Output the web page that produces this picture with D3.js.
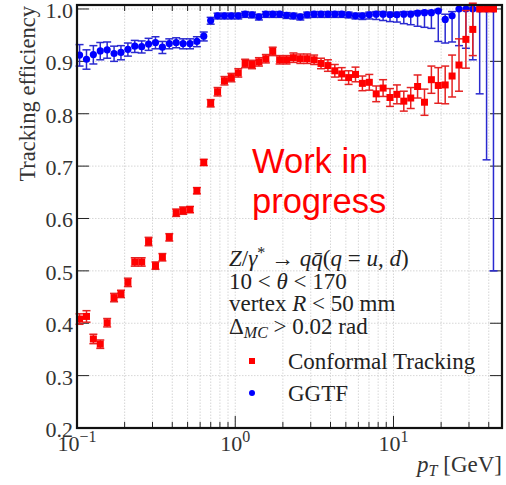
<!DOCTYPE html>
<html>
<head>
<meta charset="utf-8">
<script src="https://cdn.jsdelivr.net/npm/d3@7"></script>
<style>
  body { margin: 0; background: #fff; }
  svg { display: block; }
  .tick-label { font-family: "Liberation Serif", serif; font-size: 22px; fill: #333; }
</style>
</head>
<body>
<div id="chart"></div>
<script>
// bin centres in pT [GeV]
var pT = [0.1038, 0.1148, 0.1269, 0.1403, 0.1551, 0.1715, 0.1896, 0.2097, 0.2318, 0.2563,
  0.2834, 0.3133, 0.3464, 0.3830, 0.4234, 0.4682, 0.5176, 0.5723, 0.6324, 0.6994,
  0.7733, 0.8548, 0.9450, 1.045, 1.155, 1.277, 1.411, 1.561, 1.725, 1.908,
  2.109, 2.332, 2.578, 2.850, 3.151, 3.484, 3.852, 4.258, 4.708, 5.205,
  5.754, 6.362, 7.034, 7.777, 8.598, 9.506, 10.51, 11.62, 12.85, 14.20,
  15.70, 17.36, 19.19, 21.22, 23.46, 25.94, 28.68, 31.71, 35.05, 38.75, 42.84];

// Conformal Tracking
var ctEff = [0.408, 0.413, 0.370, 0.360, 0.401, 0.449, 0.456, 0.478, 0.517, 0.517,
  0.556, 0.510, 0.526, 0.564, 0.611, 0.615, 0.617, 0.653, 0.707, 0.820,
  0.842, 0.863, 0.869, 0.878, 0.896, 0.894, 0.899, 0.905, 0.919, 0.903,
  0.903, 0.907, 0.905, 0.905, 0.903, 0.896, 0.892, 0.882, 0.876, 0.869,
  0.875, 0.858, 0.860, 0.838, 0.849, 0.831, 0.837, 0.824, 0.830, 0.852,
  0.822, 0.865, 0.854, 0.855, 0.872, 0.893, 0.942, 0.961, 1.0, 1.0, 1.0];
var ctErr = [0.010, 0.011, 0.009, 0.008, 0.008, 0.008, 0.007, 0.008, 0.008, 0.008,
  0.008, 0.007, 0.007, 0.007, 0.007, 0.007, 0.006, 0.006, 0.006, 0.007,
  0.008, 0.008, 0.008, 0.008, 0.008, 0.008, 0.008, 0.008, 0.008, 0.008,
  0.008, 0.009, 0.009, 0.009, 0.009, 0.010, 0.011, 0.012, 0.012, 0.013,
  0.014, 0.014, 0.015, 0.015, 0.016, 0.017, 0.018, 0.019, 0.020, 0.022,
  0.025, 0.026, 0.034, 0.036, 0.040, 0.050, 0.055, 0.050, 0, 0, 0];

// GGTF
var ggEff = [0.912, 0.904, 0.913, 0.920, 0.922, 0.915, 0.917, 0.923, 0.929, 0.928,
  0.933, 0.936, 0.927, 0.934, 0.936, 0.934, 0.934, 0.938, 0.948, 0.978,
  0.987, 0.987, 0.987, 0.987, 0.990, 0.989, 0.985, 0.990, 0.990, 0.990,
  0.988, 0.987, 0.985, 0.989, 0.990, 0.990, 0.990, 0.990, 0.990, 0.989,
  0.987, 0.987, 0.989, 0.990, 0.990, 0.989, 0.989, 0.990, 0.990, 0.992,
  0.993, 0.993, 0.996, 0.980, 0.987, 1.0, 1.0, 1.0, 1.0, 1.0, 1.0];
var ggLo = [0.021, 0.019, 0.018, 0.017, 0.016, 0.015, 0.014, 0.013, 0.012, 0.012,
  0.012, 0.012, 0.012, 0.010, 0.010, 0.010, 0.010, 0.010, 0.009, 0.007,
  0.006, 0.006, 0.006, 0.006, 0.006, 0.006, 0.006, 0.006, 0.006, 0.006,
  0.006, 0.006, 0.006, 0.006, 0.006, 0.006, 0.006, 0.006, 0.006, 0.006,
  0.006, 0.007, 0.008, 0.010, 0.012, 0.013, 0.014, 0.018, 0.020, 0.025,
  0.028, 0.030, 0.058, 0.045, 0.050, 0.070, 0.075, 0.097, 0.162, 0.288, 0.500];
var ggHi = [0.020, 0.018, 0.017, 0.016, 0.015, 0.014, 0.013, 0.012, 0.011, 0.011,
  0.011, 0.011, 0.011, 0.009, 0.009, 0.009, 0.009, 0.009, 0.008, 0.006,
  0.005, 0.005, 0.005, 0.005, 0.005, 0.005, 0.005, 0.005, 0.005, 0.005,
  0.005, 0.005, 0.005, 0.005, 0.005, 0.005, 0.005, 0.005, 0.005, 0.005,
  0.005, 0.005, 0.005, 0.005, 0.005, 0.005, 0.005, 0.005, 0.005, 0.004,
  0.004, 0.004, 0.003, 0.010, 0.008, 0, 0, 0, 0, 0, 0];

var yTicks = [0.2, 0.3, 0.4, 0.5, 0.6, 0.7, 0.8, 0.9, 1.0];
var xMajor = [0.1, 1, 10];
var xMinor = [0.2, 0.3, 0.4, 0.5, 0.6, 0.7, 0.8, 0.9, 2, 3, 4, 5, 6, 7, 8, 9, 20, 30, 40];

var svgWidth = 506, svgHeight = 485;
var margin = { top: 5, right: 4, bottom: 57, left: 77 };

var svg = d3.select("#chart").append("svg")
  .attr("width", svgWidth)
  .attr("height", svgHeight);

var x = d3.scaleLog().domain([0.1, 48.5]).range([margin.left, svgWidth - margin.right]);
var y = d3.scaleLinear().domain([0.2, 1.0076]).range([svgHeight - margin.bottom, margin.top]);

var x0 = margin.left, x1 = svgWidth - margin.right;
var y0 = svgHeight - margin.bottom, y1 = margin.top;

// grid
var grid = svg.append("g").attr("stroke", "#cccccc").attr("stroke-width", 0.8).attr("stroke-dasharray", "1.5,1.5");
grid.selectAll(".gx").data(xMajor.concat(xMinor).filter(d => d > 0.1)).enter().append("line")
  .attr("x1", d => x(d)).attr("x2", d => x(d)).attr("y1", y0).attr("y2", y1);
grid.selectAll(".gy").data(yTicks.slice(1)).enter().append("line")
  .attr("x1", x0).attr("x2", x1).attr("y1", d => y(d)).attr("y2", d => y(d));

// ticks (inward, all sides)
var ticks = svg.append("g").attr("stroke", "#222").attr("stroke-width", 1);
yTicks.forEach(function(d) {
  ticks.append("line").attr("x1", x0).attr("x2", x0 + 12).attr("y1", y(d)).attr("y2", y(d));
  ticks.append("line").attr("x1", x1).attr("x2", x1 - 12).attr("y1", y(d)).attr("y2", y(d));
});
xMajor.forEach(function(d) {
  ticks.append("line").attr("x1", x(d)).attr("x2", x(d)).attr("y1", y0).attr("y2", y0 - 12);
  ticks.append("line").attr("x1", x(d)).attr("x2", x(d)).attr("y1", y1).attr("y2", y1 + 12);
});
xMinor.forEach(function(d) {
  ticks.append("line").attr("x1", x(d)).attr("x2", x(d)).attr("y1", y0).attr("y2", y0 - 6);
  ticks.append("line").attr("x1", x(d)).attr("x2", x(d)).attr("y1", y1).attr("y2", y1 + 6);
});

// tick labels
svg.selectAll(".ylab").data(yTicks).enter().append("text")
  .attr("class", "tick-label")
  .attr("x", x0 - 4).attr("y", d => y(d) + 9)
  .attr("text-anchor", "end")
  .text(d => d.toFixed(1));

var xl = svg.selectAll(".xlab").data(xMajor).enter().append("text")
  .attr("class", "tick-label")
  .attr("x", d => x(d)).attr("y", 451)
  .attr("text-anchor", "middle");
xl.append("tspan").text("10");
xl.append("tspan").attr("dy", -9).style("font-size", "16px")
  .text(d => String(Math.round(Math.log10(d))).replace("-", "\u2212"));

// data
var idx = d3.range(pT.length);
var capW = 4;

// GGTF
var gB = svg.append("g").attr("stroke", "#2a2ad0").attr("stroke-width", 1.5);
gB.selectAll("line.v").data(idx).enter().append("line")
  .attr("x1", i => x(pT[i])).attr("x2", i => x(pT[i]))
  .attr("y1", i => y(ggEff[i] - ggLo[i])).attr("y2", i => y(ggEff[i] + ggHi[i]));
gB.selectAll("line.lo").data(idx).enter().append("line")
  .attr("x1", i => x(pT[i]) - capW).attr("x2", i => x(pT[i]) + capW)
  .attr("y1", i => y(ggEff[i] - ggLo[i])).attr("y2", i => y(ggEff[i] - ggLo[i]));
gB.selectAll("line.hi").data(idx.filter(i => ggHi[i] > 0)).enter().append("line")
  .attr("x1", i => x(pT[i]) - capW).attr("x2", i => x(pT[i]) + capW)
  .attr("y1", i => y(ggEff[i] + ggHi[i])).attr("y2", i => y(ggEff[i] + ggHi[i]));
svg.append("g").selectAll("circle").data(idx).enter().append("circle")
  .attr("cx", i => x(pT[i])).attr("cy", i => y(ggEff[i])).attr("r", 3.6)
  .attr("fill", "#0000ff");

// Conformal Tracking
var cB = svg.append("g").attr("stroke", "#e52222").attr("stroke-width", 1.5);
var ctIdx = idx.filter(i => ctErr[i] > 0);
cB.selectAll("line.v").data(ctIdx).enter().append("line")
  .attr("x1", i => x(pT[i])).attr("x2", i => x(pT[i]))
  .attr("y1", i => y(ctEff[i] - ctErr[i])).attr("y2", i => y(ctEff[i] + ctErr[i]));
cB.selectAll("line.lo").data(ctIdx).enter().append("line")
  .attr("x1", i => x(pT[i]) - capW).attr("x2", i => x(pT[i]) + capW)
  .attr("y1", i => y(ctEff[i] - ctErr[i])).attr("y2", i => y(ctEff[i] - ctErr[i]));
cB.selectAll("line.hi").data(ctIdx).enter().append("line")
  .attr("x1", i => x(pT[i]) - capW).attr("x2", i => x(pT[i]) + capW)
  .attr("y1", i => y(ctEff[i] + ctErr[i])).attr("y2", i => y(ctEff[i] + ctErr[i]));
svg.append("g").selectAll("rect").data(idx).enter().append("rect")
  .attr("x", i => x(pT[i]) - 3.5).attr("y", i => y(ctEff[i]) - 3.5)
  .attr("width", 7).attr("height", 7)
  .attr("fill", "#ff0000");

// frame
svg.append("rect").attr("x", x0).attr("y", y1).attr("width", x1 - x0).attr("height", y0 - y1)
  .attr("fill", "none").attr("stroke", "#111").attr("stroke-width", 2.2);

// axis titles
svg.append("text")
  .attr("transform", "translate(35,6) rotate(-90)")
  .attr("text-anchor", "end")
  .style("font-family", "Liberation Serif, serif").style("font-size", "22.5px").style("fill", "#333")
  .text("Tracking efficiency");

var xt = svg.append("text").attr("x", 502).attr("y", 472).attr("text-anchor", "end")
  .style("font-family", "Liberation Serif, serif").style("font-size", "23px").style("fill", "#333");
xt.append("tspan").style("font-style", "italic").text("p");
xt.append("tspan").attr("dy", 4).style("font-size", "16px").style("font-style", "italic").text("T");
xt.append("tspan").attr("dy", -4).text(" [GeV]");

// work in progress
var wip = svg.append("text").style("font-family", "Liberation Sans, Arial, sans-serif")
  .style("font-size", "34.5px").style("fill", "#ff0000");
wip.append("tspan").attr("x", 252).attr("y", 173).text("Work in");
wip.append("tspan").attr("x", 252).attr("y", 213).text("progress");

// selection text
var info = svg.append("g").style("font-family", "Liberation Serif, serif").style("font-size", "23px").style("fill", "#222");
var l1 = info.append("text").attr("x", 229).attr("y", 266);
l1.append("tspan").style("font-style", "italic").text("Z");
l1.append("tspan").text("/");
l1.append("tspan").style("font-style", "italic").text("\u03b3");
l1.append("tspan").attr("dy", -8).style("font-size", "16px").text("*");
l1.append("tspan").attr("dy", 8).text(" \u2192 ");
l1.append("tspan").style("font-style", "italic").text("qq\u0304");
l1.append("tspan").text("(");
l1.append("tspan").style("font-style", "italic").text("q");
l1.append("tspan").text(" = ");
l1.append("tspan").style("font-style", "italic").text("u");
l1.append("tspan").text(", ");
l1.append("tspan").style("font-style", "italic").text("d");
l1.append("tspan").text(")");

var l2 = info.append("text").attr("x", 229).attr("y", 289);
l2.append("tspan").text("10 < ");
l2.append("tspan").style("font-style", "italic").text("\u03b8");
l2.append("tspan").text(" < 170");

var l3 = info.append("text").attr("x", 229).attr("y", 311);
l3.append("tspan").text("vertex ");
l3.append("tspan").style("font-style", "italic").text("R");
l3.append("tspan").text(" < 50 mm");

var l4 = info.append("text").attr("x", 229).attr("y", 334);
l4.append("tspan").text("\u0394");
l4.append("tspan").attr("dy", 4).style("font-size", "16px").style("font-style", "italic").text("MC");
l4.append("tspan").attr("dy", -4).text(" > 0.02 rad");

// legend
var series = ["Conformal Tracking", "GGTF"];
var legY = [361, 393];
svg.append("rect").attr("x", 249).attr("y", legY[0] - 3).attr("width", 6).attr("height", 6).attr("fill", "#ff0000");
svg.append("circle").attr("cx", 252).attr("cy", legY[1]).attr("r", 3).attr("fill", "#0000ff");
info.selectAll(".leg").data(series).enter().append("text")
  .attr("x", 288).attr("y", (d, i) => legY[i] + 8)
  .text(d => d);
</script>
</body>
</html>
